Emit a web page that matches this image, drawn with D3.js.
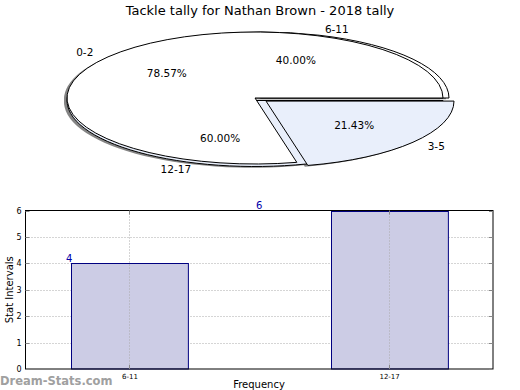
<!DOCTYPE html>
<html><head><meta charset="utf-8">
<script src="https://cdn.jsdelivr.net/npm/d3@7"></script>
<style>body{margin:0;background:#fff}svg{display:block;font-family:"DejaVu Sans",sans-serif}</style>
</head><body><svg id="c" width="520" height="390"></svg>
<script>
// ---- data ----
const title = "Tackle tally for Nathan Brown - 2018 tally";
const pieALabels = ["0-2", "3-5"];
const pieAValues = [78.57, 21.43];
const pieBLabels = ["6-11", "12-17"];
const pieBValues = [40.00, 60.00];
const barCategories = ["6-11", "12-17"];
const barValues = [4, 6];
const yTicks = [0, 1, 2, 3, 4, 5, 6];
const yLabel = "Stat Intervals";
const xLabel = "Frequency";
const watermark = "Dream-Stats.com";

const svg = d3.select("#c");
const pieColors = ["#ffffff", "#e9effb"];

svg.append("text").attr("x", 260).attr("y", 14.5).attr("text-anchor", "middle")
  .attr("font-size", 13).text(title);

// ---- pie (elliptical, matplotlib style, angles ccw from +x) ----
const cx = 255, cy = 98, rx = 188, ry = 66;
function wedges(values) {
  const tot = d3.sum(values);
  let a = 0;
  return values.map((v, i) => {
    const a1 = a, a2 = a + v / tot * 360; a = a2;
    return { i, v, a1, a2, mid: (a1 + a2) / 2 };
  });
}
const rad = d => d * Math.PI / 180;
function wedgePath(w, ox, oy) {
  const p = d3.path();
  const x0 = cx + ox, y0 = cy + oy;
  p.moveTo(x0, y0);
  p.lineTo(x0 + rx * Math.cos(rad(w.a1)), y0 - ry * Math.sin(rad(w.a1)));
  const large = (w.a2 - w.a1) > 180 ? 1 : 0;
  return p.toString() + ` A${rx},${ry} 0 ${large} 0 ${x0 + rx * Math.cos(rad(w.a2))},${y0 - ry * Math.sin(rad(w.a2))} Z`;
}
const wA = wedges(pieAValues), wB = wedges(pieBValues);
const offA = wA.map(w => w.i === 1 ? { x: 0.075 * rx * Math.cos(rad(w.mid)), y: -0.075 * ry * Math.sin(rad(w.mid)) } : { x: 0, y: 0 });
const offB = [{ x: 6, y: 0 }, { x: 0, y: 2.5 }];

const gPie = svg.append("g");
// shadows
const gSh = gPie.append("g").attr("opacity", 0.55);
[[wB, offB], [wA, offA]].forEach(([ws, offs]) => {
  ws.forEach((w, k) => {
    gSh.append("path").attr("d", wedgePath(w, offs[k].x - 3, offs[k].y + 1.3))
      .attr("fill", "#222");
  });
});
function drawWedges(ws, offs) {
  ws.forEach((w, k) => {
    gPie.append("path").attr("d", wedgePath(w, offs[k].x, offs[k].y))
      .attr("fill", pieColors[w.i]).attr("stroke", "#000").attr("stroke-width", 1)
      .attr("stroke-linejoin", "miter");
  });
}
drawWedges(wB, offB);
drawWedges(wA, offA);
function drawLabels(ws, offs, labels) {
  ws.forEach((w, k) => {
    const x0 = cx + offs[k].x, y0 = cy + offs[k].y;
    const c = Math.cos(rad(w.mid)), s = Math.sin(rad(w.mid));
    const lx = x0 + 1.1 * rx * c, ly = y0 - 1.1 * ry * s;
    svg.append("text").attr("x", lx).attr("y", ly).attr("dy", "0.35em")
      .attr("text-anchor", c > 0 ? "start" : "end").attr("font-size", 10.5).text(labels[k]);
    const px = x0 + 0.6 * rx * c, py = y0 - 0.6 * ry * s;
    svg.append("text").attr("x", px).attr("y", py).attr("dy", "0.35em")
      .attr("text-anchor", "middle").attr("font-size", 10.5).text(w.v.toFixed(2) + "%");
  });
}
drawLabels(wB, offB, pieBLabels);
drawLabels(wA, offA, pieALabels);

// ---- bar chart ----
const L = 25.5, R = 493, T = 210.5, B = 369;
const x = d3.scaleLinear().domain([-0.4, 1.4]).range([L, R]);
const y = d3.scaleLinear().domain([0, 6]).range([B, T]);
const bw = 0.45;
const g = svg.append("g");
g.selectAll(".gy").data(yTicks.slice(1, -1)).join("line")
  .attr("x1", L).attr("x2", R).attr("y1", d => Math.round(y(d)) + 0.5).attr("y2", d => Math.round(y(d)) + 0.5)
  .attr("stroke", "#aaaaaa").attr("stroke-dasharray", "1,2");
g.selectAll(".bar").data(barValues).join("rect")
  .attr("x", (d, i) => Math.round(x(i - bw / 2)) + 0.5).attr("width", (d, i) => x(i + bw / 2) - x(i - bw / 2))
  .attr("y", d => Math.round(y(d)) + 0.5).attr("height", d => B - Math.round(y(d)) - 0.5)
  .attr("fill", "#ccccE5").attr("stroke", "#000080").attr("stroke-width", 1);
g.selectAll(".gx").data(barCategories).join("line")
  .attr("x1", (d, i) => Math.round(x(i)) + 0.5).attr("x2", (d, i) => Math.round(x(i)) + 0.5)
  .attr("y1", T).attr("y2", B).attr("stroke", "#aaaaaa").attr("stroke-dasharray", "1,2");
g.append("rect").attr("x", L).attr("y", T).attr("width", R - L).attr("height", B - T)
  .attr("fill", "none").attr("stroke", "#000").attr("stroke-width", 1);
yTicks.forEach(t => {
  const yy = Math.round(y(t)) + 0.5;
  g.append("line").attr("x1", L).attr("x2", L + 4).attr("y1", yy).attr("y2", yy).attr("stroke", "#888");
  g.append("line").attr("x1", R - 4).attr("x2", R).attr("y1", yy).attr("y2", yy).attr("stroke", "#888");
});
barCategories.forEach((c, i) => {
  const xx = Math.round(x(i)) + 0.5;
  g.append("line").attr("x1", xx).attr("x2", xx).attr("y1", B).attr("y2", B - 4).attr("stroke", "#888");
  g.append("line").attr("x1", xx).attr("x2", xx).attr("y1", T).attr("y2", T + 4).attr("stroke", "#888");
});
g.append("g").attr("transform", `translate(${L},0)`)
  .call(d3.axisLeft(y).tickValues(yTicks).tickSize(0).tickPadding(4).tickFormat(d3.format("d")))
  .call(a => a.select(".domain").remove())
  .selectAll("text").attr("font-size", 8).attr("font-family", "DejaVu Sans");
g.append("g").attr("transform", `translate(0,${B})`)
  .call(d3.axisBottom(x).tickValues(barCategories.map((d, i) => i)).tickSize(0).tickPadding(5)
    .tickFormat(i => barCategories[i]))
  .call(a => a.select(".domain").remove())
  .selectAll("text").attr("font-size", 7).attr("font-family", "DejaVu Sans");
const valueLabelX = [x(-bw / 2) - 5, x(0.5)];
barValues.forEach((v, i) => {
  svg.append("text").attr("x", valueLabelX[i]).attr("y", y(v) - 1.5)
    .attr("text-anchor", i === 0 ? "start" : "middle")
    .attr("font-size", 10).attr("fill", "#0000aa").text(v);
});
svg.append("text").attr("transform", `translate(12.5,${(T + B) / 2}) rotate(-90)`)
  .attr("text-anchor", "middle").attr("font-size", 10).text(yLabel);
svg.append("text").attr("x", 259).attr("y", 388).attr("text-anchor", "middle")
  .attr("font-size", 10).text(xLabel);
svg.append("text").attr("x", 0).attr("y", 384.5).attr("font-size", 11.5).attr("font-weight", "bold")
  .attr("fill", "#a0a0a0").text(watermark);
</script></body></html>
